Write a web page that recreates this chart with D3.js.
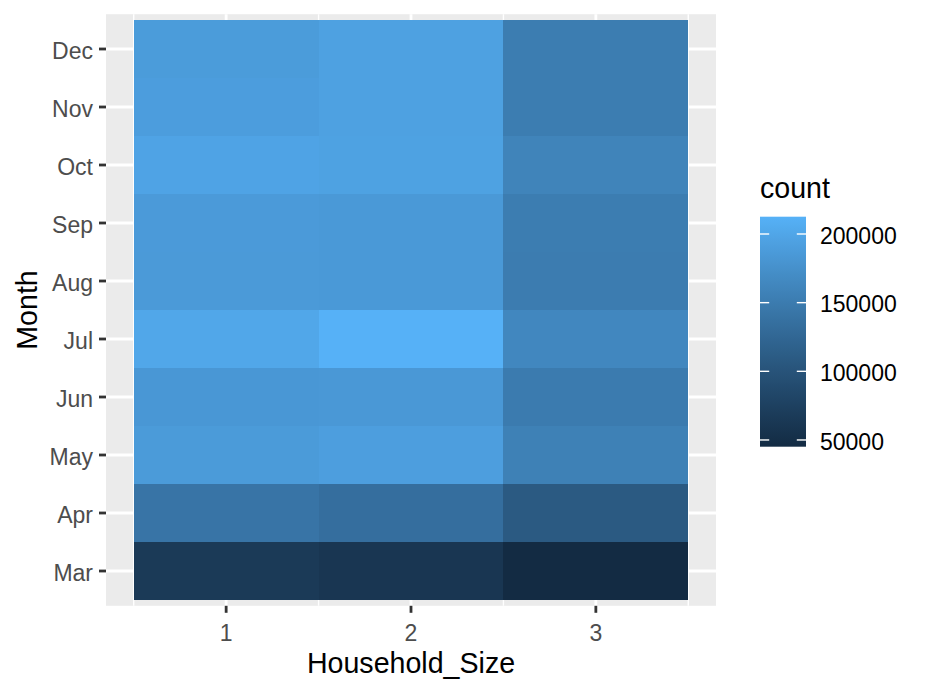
<!DOCTYPE html>
<html>
<head>
<meta charset="utf-8">
<script src="https://cdn.jsdelivr.net/npm/d3@7"></script>
<style>
  body { margin: 0; background: #fff; }
  text { font-family: "Liberation Sans", Arial, sans-serif; }
</style>
</head>
<body>
<svg id="chart" width="928" height="692"></svg>
<script>
const months = ['Mar', 'Apr', 'May', 'Jun', 'Jul', 'Aug', 'Sep', 'Oct', 'Nov', 'Dec'];
const householdSizes = [1, 2, 3];
// counts per month (Mar..Dec) for each household size
const countSize1 = [66100, 141500, 187000, 183200, 201000, 186000, 186600, 197000, 190000, 188000];
const countSize2 = [61300, 134000, 191000, 184000, 212600, 185500, 185500, 195000, 194000, 194000];
const countSize3 = [45100, 108400, 156300, 149500, 164000, 151000, 151500, 160000, 152000, 152000];
const legendTicks = [50000, 100000, 150000, 200000];

main();

function main () {
  const svg = d3.select('#chart');
  const cells = [];
  const series = [countSize1, countSize2, countSize3];
  householdSizes.forEach((s, i) => {
    months.forEach((m, j) => {
      cells.push({ size: s, month: m, count: series[i][j] });
    });
  });

  const x = d3.scaleLinear().domain([0.35, 3.65]).range([106, 716]);
  const y = d3.scaleBand().domain(months).range([600, 20]);
  const color = d3.scaleLinear()
    .domain(d3.extent(cells, d => d.count))
    .range(['#132B43', '#56B1F7'])
    .interpolate(d3.interpolateLab);

  drawPanel(svg, x, y);
  drawTiles(svg, cells, x, y, color);
  drawAxes(svg, x, y);
  drawLegend(svg, color);
}

function drawPanel (svg, x, y) {
  const pad = y.bandwidth() * 0.1;
  const top = y(months[months.length - 1]) - pad;
  const bottom = y(months[0]) + y.bandwidth() + pad;
  svg.append('rect')
    .attr('x', x(0.35)).attr('y', top)
    .attr('width', x(3.65) - x(0.35)).attr('height', bottom - top)
    .attr('fill', '#EBEBEB');

  // minor x grid
  [0.5, 1.5, 2.5, 3.5].forEach(v => {
    svg.append('line')
      .attr('x1', x(v)).attr('x2', x(v)).attr('y1', top).attr('y2', bottom)
      .attr('stroke', '#fff').attr('stroke-width', 1.4);
  });
  householdSizes.forEach(v => {
    svg.append('line')
      .attr('x1', x(v)).attr('x2', x(v)).attr('y1', top).attr('y2', bottom)
      .attr('stroke', '#fff').attr('stroke-width', 2.8);
  });
  months.forEach(m => {
    const cy = y(m) + y.bandwidth() / 2;
    svg.append('line')
      .attr('x1', x(0.35)).attr('x2', x(3.65)).attr('y1', cy).attr('y2', cy)
      .attr('stroke', '#fff').attr('stroke-width', 2.8);
  });
}

function drawTiles (svg, cells, x, y, color) {
  svg.append('g').selectAll('rect')
    .data(cells)
    .join('rect')
    .attr('x', d => x(d.size - 0.5))
    .attr('y', d => y(d.month))
    .attr('width', d => x(d.size + 0.5) - x(d.size - 0.5))
    .attr('height', y.bandwidth())
    .attr('fill', d => color(d.count))
    .attr('shape-rendering', 'crispEdges');
}

function drawAxes (svg, x, y) {
  const pad = y.bandwidth() * 0.1;
  const bottom = y(months[0]) + y.bandwidth() + pad;

  // y axis
  months.forEach(m => {
    const cy = y(m) + y.bandwidth() / 2;
    svg.append('line')
      .attr('x1', 99).attr('x2', 106).attr('y1', cy).attr('y2', cy)
      .attr('stroke', '#333333').attr('stroke-width', 2.8);
    svg.append('text').text(m)
      .attr('x', 93).attr('y', cy)
      .attr('dy', '0.42em')
      .attr('text-anchor', 'end')
      .attr('font-size', '23px')
      .attr('fill', '#4D4D4D');
  });

  // x axis
  householdSizes.forEach(v => {
    svg.append('line')
      .attr('x1', x(v)).attr('x2', x(v)).attr('y1', bottom).attr('y2', bottom + 7)
      .attr('stroke', '#333333').attr('stroke-width', 2.8);
    svg.append('text').text(v)
      .attr('x', x(v)).attr('y', 641)
      .attr('text-anchor', 'middle')
      .attr('font-size', '23px')
      .attr('fill', '#4D4D4D');
  });

  svg.append('text').text('Household_Size')
    .attr('x', (x(0.35) + x(3.65)) / 2).attr('y', 673)
    .attr('text-anchor', 'middle')
    .attr('font-size', '28.6px')
    .attr('fill', '#000');

  const midY = (y(months[months.length - 1]) + y(months[0]) + y.bandwidth()) / 2;
  svg.append('text').text('Month')
    .attr('transform', `translate(37,${midY}) rotate(-90)`)
    .attr('text-anchor', 'middle')
    .attr('font-size', '28.6px')
    .attr('fill', '#000');
}

function drawLegend (svg, color) {
  const barX = 760;
  const barW = 46;
  const barTop = 216.7;
  const barBottom = 446.7;
  const [lo, hi] = color.domain();
  const ly = d3.scaleLinear().domain([lo, hi]).range([barBottom, barTop]);

  svg.append('text').text('count')
    .attr('x', barX).attr('y', 198)
    .attr('font-size', '28.6px')
    .attr('fill', '#000');

  const grad = svg.append('defs').append('linearGradient')
    .attr('id', 'countGradient')
    .attr('x1', '0%').attr('x2', '0%')
    .attr('y1', '100%').attr('y2', '0%');
  d3.range(0, 1.0001, 0.05).forEach(t => {
    grad.append('stop')
      .attr('offset', `${t * 100}%`)
      .attr('stop-color', color(lo + t * (hi - lo)));
  });

  svg.append('rect')
    .attr('x', barX).attr('y', barTop)
    .attr('width', barW).attr('height', barBottom - barTop)
    .attr('fill', 'url(#countGradient)');

  legendTicks.forEach(v => {
    const ty = ly(v);
    svg.append('line')
      .attr('x1', barX).attr('x2', barX + barW / 5).attr('y1', ty).attr('y2', ty)
      .attr('stroke', '#fff').attr('stroke-width', 1.4);
    svg.append('line')
      .attr('x1', barX + barW * 4 / 5).attr('x2', barX + barW).attr('y1', ty).attr('y2', ty)
      .attr('stroke', '#fff').attr('stroke-width', 1.4);
    svg.append('text').text(v)
      .attr('x', 820).attr('y', ty)
      .attr('dy', '0.42em')
      .attr('font-size', '23px')
      .attr('fill', '#000');
  });
}
</script>
</body>
</html>
